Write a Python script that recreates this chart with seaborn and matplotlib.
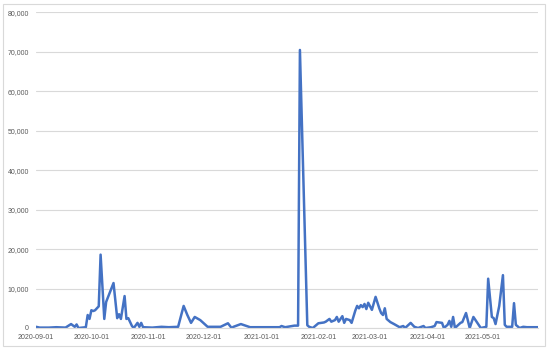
import pandas as pd
import matplotlib
matplotlib.use("Agg")
import matplotlib.pyplot as plt
import matplotlib.dates as mdates
from matplotlib.ticker import FuncFormatter
from matplotlib.patches import Rectangle
import seaborn as sns

# values (vertices of the line)
dates = [
    "2020-09-01", "2020-09-03", "2020-09-08", "2020-09-12", "2020-09-17", "2020-09-20",
    "2020-09-22", "2020-09-23", "2020-09-24", "2020-09-28", "2020-09-29", "2020-09-30",
    "2020-10-01", "2020-10-02", "2020-10-03", "2020-10-04", "2020-10-05", "2020-10-06",
    "2020-10-08", "2020-10-09", "2020-10-11", "2020-10-13", "2020-10-15", "2020-10-16",
    "2020-10-17", "2020-10-19", "2020-10-20", "2020-10-21", "2020-10-23", "2020-10-24",
    "2020-10-26", "2020-10-27", "2020-10-28", "2020-10-29", "2020-11-03", "2020-11-08",
    "2020-11-12", "2020-11-17", "2020-11-20", "2020-11-22", "2020-11-24", "2020-11-26",
    "2020-11-29", "2020-12-03", "2020-12-10", "2020-12-14", "2020-12-16", "2020-12-17",
    "2020-12-21", "2020-12-26", "2021-01-05", "2021-01-11", "2021-01-12", "2021-01-14",
    "2021-01-19", "2021-01-21", "2021-01-22", "2021-01-26", "2021-01-27", "2021-01-29",
    "2021-02-01", "2021-02-04", "2021-02-05", "2021-02-07", "2021-02-08", "2021-02-10",
    "2021-02-11", "2021-02-12", "2021-02-14", "2021-02-15", "2021-02-16", "2021-02-18",
    "2021-02-19", "2021-02-21", "2021-02-22", "2021-02-23", "2021-02-24", "2021-02-25",
    "2021-02-26", "2021-02-27", "2021-02-28", "2021-03-02", "2021-03-03", "2021-03-04",
    "2021-03-06", "2021-03-07", "2021-03-08", "2021-03-09", "2021-03-10", "2021-03-12",
    "2021-03-14", "2021-03-17", "2021-03-19", "2021-03-20", "2021-03-23", "2021-03-25",
    "2021-03-27", "2021-03-30", "2021-03-31", "2021-04-03", "2021-04-05", "2021-04-06",
    "2021-04-09", "2021-04-10", "2021-04-12", "2021-04-13", "2021-04-14", "2021-04-15",
    "2021-04-16", "2021-04-19", "2021-04-20", "2021-04-22", "2021-04-24", "2021-04-26",
    "2021-04-30", "2021-05-03", "2021-05-04", "2021-05-06", "2021-05-07", "2021-05-08",
    "2021-05-10", "2021-05-12", "2021-05-13", "2021-05-14", "2021-05-17", "2021-05-18",
    "2021-05-19", "2021-05-21", "2021-05-23", "2021-05-25", "2021-05-31",
]
counts = [
    300, 100, 100, 200, 100, 1000,
    300, 900, 0, 200, 3300, 2300,
    4500, 4300, 4500, 5000, 5500, 18600,
    2300, 6600, 9000, 11400, 2500, 3500,
    2300, 8100, 2300, 2500, 500, 0,
    1300, 300, 1300, 200, 100, 300,
    200, 300, 5600, 3300, 1300, 2800,
    2000, 300, 300, 1200, 0, 300,
    1000, 200, 200, 200, 500, 200,
    600, 600, 70500, 700, 300, 0,
    1200, 1400, 1600, 2300, 1600, 2000,
    2800, 1600, 3000, 1300, 2300, 2000,
    1300, 4400, 5600, 5000, 5800, 5300,
    6100, 4800, 6400, 4600, 6300, 7900,
    5000, 3800, 3300, 5000, 2300, 1500,
    1000, 200, 500, 0, 1300, 300,
    0, 500, 0, 200, 500, 1500,
    1300, 0, 800, 1800, 300, 2800,
    0, 1300, 1500, 3800, 0, 2800,
    0, 300, 12500, 2800, 2500, 1000,
    5600, 13400, 800, 300, 300, 6300,
    800, 0, 300, 200, 200,
]
y_ticks = list(range(0, 80001, 10000))

df = pd.DataFrame({"date": pd.to_datetime(dates), "count": counts})

sns.set_style("white")
plt.rcParams["font.family"] = ["Liberation Sans", "DejaVu Sans"]

fig = plt.figure(figsize=(5.5, 3.52), dpi=100)
ax = fig.add_axes([36 / 550, 24 / 352, 502 / 550, 315.5 / 352])

sns.lineplot(data=df, x="date", y="count", ax=ax, color="#4472C4", linewidth=1.8)

ax.set_xlim(pd.Timestamp("2020-09-01"), pd.Timestamp("2021-05-31"))
ax.set_ylim(0, 80000)
ax.set_yticks(y_ticks)
ax.yaxis.set_major_formatter(FuncFormatter(lambda v, p: f"{int(v):,}"))
ax.xaxis.set_major_locator(mdates.MonthLocator(bymonthday=1))
ax.xaxis.set_major_formatter(mdates.DateFormatter("%Y-%m-%d"))

ax.grid(axis="y", color="#D9D9D9", linewidth=0.8)
ax.set_axisbelow(True)
for s in ax.spines.values():
    s.set_visible(False)
ax.spines["bottom"].set_visible(True)
ax.spines["bottom"].set_color("#D9D9D9")
ax.spines["bottom"].set_linewidth(0.8)
ax.tick_params(axis="both", length=0, labelsize=5, labelcolor="#595959")
ax.tick_params(axis="x", pad=4)
ax.tick_params(axis="y", pad=5)
ax.set_xlabel("")
ax.set_ylabel("")

fig.patches.append(Rectangle((3 / 550, 6 / 352), 542 / 550, 342 / 352,
                             transform=fig.transFigure, fill=False,
                             edgecolor="#D9D9D9", linewidth=0.8))

fig.savefig("out.png", dpi=100)
